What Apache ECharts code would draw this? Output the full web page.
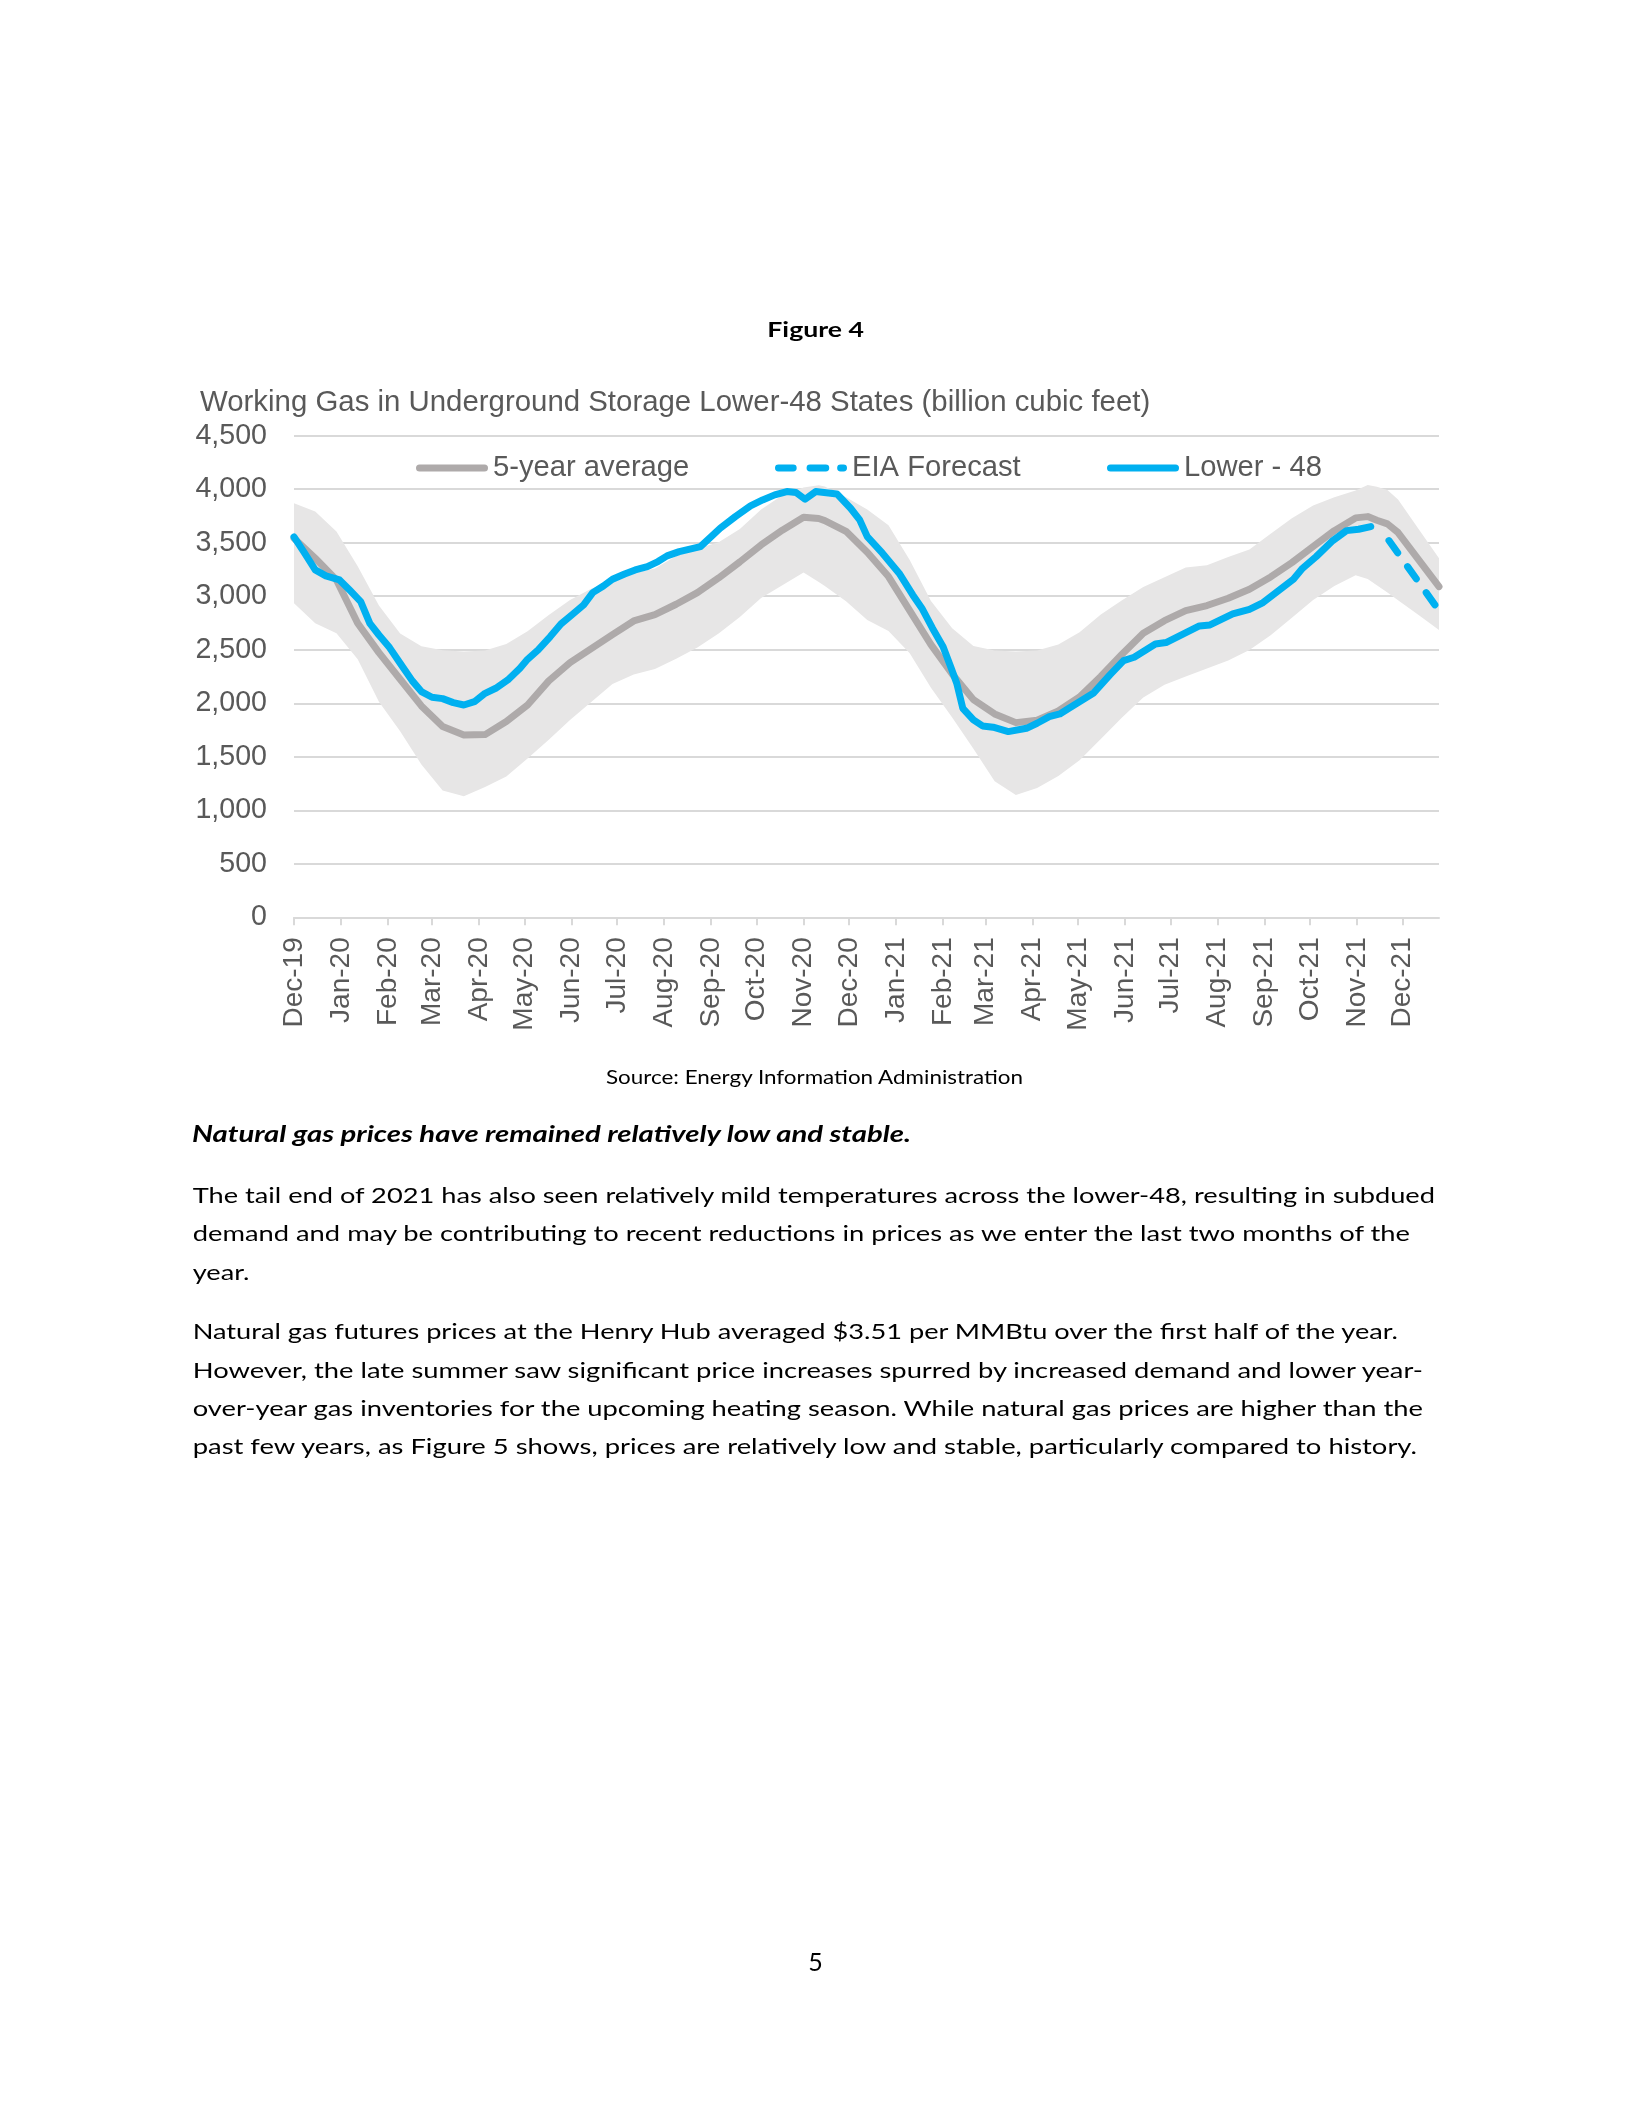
<!DOCTYPE html>
<html>
<head>
<meta charset="utf-8">
<script src="https://cdn.jsdelivr.net/npm/echarts@6/dist/echarts.min.js"></script>
<style>
html,body{margin:0;padding:0;background:#fff;}
#page{position:relative;width:1631px;height:2111px;overflow:hidden;background:#fff;}
#chart{position:absolute;left:0;top:0;width:1631px;height:1060px;}
#doc{position:absolute;left:0;top:0;width:1631px;height:2111px;pointer-events:none;}
#doc text{font-family:Lato,'Open Sans',sans-serif;fill:#000;}
</style>
</head>
<body>
<div id="page">
<div id="chart"></div>
<svg id="doc" width="1631" height="2111" xmlns="http://www.w3.org/2000/svg">
  <text x="767.3" y="337.3" font-size="21" font-weight="700" textLength="96.7" lengthAdjust="spacingAndGlyphs">Figure 4</text>
  <text x="606" y="1084.3" font-size="19" textLength="417" lengthAdjust="spacingAndGlyphs">Source: Energy Information Administration</text>
  <text x="192" y="1142.3" font-size="23" font-weight="700" font-style="italic" textLength="719" lengthAdjust="spacingAndGlyphs">Natural gas prices have remained relatively low and stable.</text>
  <text x="192.7" y="1202.7" font-size="22" textLength="1242.3" lengthAdjust="spacingAndGlyphs">The tail end of 2021 has also seen relatively mild temperatures across the lower-48, resulting in subdued</text>
  <text x="192.7" y="1241.4" font-size="22" textLength="1217.3" lengthAdjust="spacingAndGlyphs">demand and may be contributing to recent reductions in prices as we enter the last two months of the</text>
  <text x="192.7" y="1280" font-size="22" textLength="56.8" lengthAdjust="spacingAndGlyphs">year.</text>
  <text x="192.7" y="1339.4" font-size="22" textLength="1205.3" lengthAdjust="spacingAndGlyphs">Natural gas futures prices at the Henry Hub averaged $3.51 per MMBtu over the first half of the year.</text>
  <text x="192.7" y="1377.7" font-size="22" textLength="1230.3" lengthAdjust="spacingAndGlyphs">However, the late summer saw significant price increases spurred by increased demand and lower year-</text>
  <text x="192.7" y="1416" font-size="22" textLength="1230.3" lengthAdjust="spacingAndGlyphs">over-year gas inventories for the upcoming heating season. While natural gas prices are higher than the</text>
  <text x="192.7" y="1454.4" font-size="22" textLength="1224.3" lengthAdjust="spacingAndGlyphs">past few years, as Figure 5 shows, prices are relatively low and stable, particularly compared to history.</text>
  <text x="815.5" y="1971" font-size="25" text-anchor="middle">5</text>
</svg>
</div>
<script>
// ---------------- DATA ----------------
const tickDates = ['2019-12-01','2020-01-01','2020-02-01','2020-03-01','2020-04-01','2020-05-01','2020-06-01','2020-07-01','2020-08-01','2020-09-01','2020-10-01','2020-11-01','2020-12-01','2021-01-01','2021-02-01','2021-03-01','2021-04-01','2021-05-01','2021-06-01','2021-07-01','2021-08-01','2021-09-01','2021-10-01','2021-11-01','2021-12-01'];
const tickLabels = ['Dec-19','Jan-20','Feb-20','Mar-20','Apr-20','May-20','Jun-20','Jul-20','Aug-20','Sep-20','Oct-20','Nov-20','Dec-20','Jan-21','Feb-21','Mar-21','Apr-21','May-21','Jun-21','Jul-21','Aug-21','Sep-21','Oct-21','Nov-21','Dec-21'];
const yTicks = [0,500,1000,1500,2000,2500,3000,3500,4000,4500];

// 5-year range band and 5-year average (same dates)
const bandDates = ['2019-12-01','2019-12-15','2019-12-29','2020-01-12','2020-01-26','2020-02-09','2020-02-23','2020-03-08','2020-03-22','2020-04-05','2020-04-19','2020-05-03','2020-05-17','2020-05-31','2020-06-14','2020-06-28','2020-07-12','2020-07-26','2020-08-09','2020-08-23','2020-09-06','2020-09-20','2020-10-04','2020-10-18','2020-11-01','2020-11-11','2020-11-15','2020-11-29','2020-12-13','2020-12-27','2021-01-10','2021-01-24','2021-02-07','2021-02-21','2021-03-07','2021-03-21','2021-04-04','2021-04-18','2021-05-02','2021-05-16','2021-05-30','2021-06-13','2021-06-27','2021-07-11','2021-07-25','2021-08-08','2021-08-22','2021-09-05','2021-09-19','2021-10-03','2021-10-17','2021-10-31','2021-11-08','2021-11-14','2021-11-21','2021-11-28','2021-12-12','2021-12-25'];
const bandMax = [3869,3791,3604,3280,2913,2651,2532,2495,2483,2492,2554,2673,2825,2965,3071,3149,3218,3258,3377,3445,3504,3629,3810,3944,4015,4037,4025,3925,3810,3663,3339,2956,2701,2536,2492,2483,2492,2548,2663,2830,2962,3087,3177,3268,3289,3367,3436,3585,3729,3847,3925,3987,4040,4022,3993,3903,3620,3355];
const bandMin = [2934,2747,2654,2411,2015,1738,1427,1184,1131,1218,1315,1483,1660,1844,2012,2181,2268,2321,2417,2520,2651,2807,2984,3103,3221,3134,3096,2953,2779,2676,2467,2146,1866,1576,1271,1143,1209,1321,1467,1667,1866,2053,2174,2249,2324,2399,2498,2635,2800,2965,3096,3196,3162,3103,3034,2962,2819,2685];
const avgValues = [3542,3355,3152,2747,2473,2224,1975,1782,1704,1707,1829,1984,2209,2380,2511,2642,2769,2828,2925,3034,3171,3321,3479,3617,3738,3726,3707,3607,3411,3184,2866,2548,2274,2034,1900,1819,1841,1928,2059,2250,2458,2654,2772,2866,2913,2981,3065,3180,3314,3464,3613,3732,3744,3710,3676,3595,3333,3090];

// Lower-48 working gas
const l48Dates = ['2019-12-01','2019-12-08','2019-12-15','2019-12-22','2019-12-31','2020-01-07','2020-01-14','2020-01-20','2020-01-26','2020-02-02','2020-02-09','2020-02-17','2020-02-23','2020-03-01','2020-03-08','2020-03-15','2020-03-22','2020-03-29','2020-04-05','2020-04-12','2020-04-20','2020-04-28','2020-05-03','2020-05-10','2020-05-18','2020-05-25','2020-06-02','2020-06-09','2020-06-15','2020-06-22','2020-06-28','2020-07-06','2020-07-13','2020-07-21','2020-07-28','2020-08-03','2020-08-11','2020-08-25','2020-09-07','2020-09-17','2020-09-27','2020-10-05','2020-10-13','2020-10-21','2020-10-27','2020-11-02','2020-11-09','2020-11-23','2020-12-02','2020-12-08','2020-12-13','2020-12-23','2021-01-03','2021-01-12','2021-01-18','2021-01-25','2021-02-01','2021-02-06','2021-02-10','2021-02-14','2021-02-21','2021-02-27','2021-03-06','2021-03-16','2021-03-28','2021-04-04','2021-04-12','2021-04-19','2021-04-25','2021-05-11','2021-05-22','2021-05-31','2021-06-07','2021-06-21','2021-06-28','2021-07-20','2021-07-27','2021-08-11','2021-08-22','2021-08-31','2021-09-20','2021-09-26','2021-10-05','2021-10-16','2021-10-25','2021-11-02','2021-11-10'];
const l48Values = [3555,3402,3246,3190,3152,3053,2950,2747,2638,2520,2374,2209,2109,2056,2043,2006,1984,2015,2093,2140,2218,2327,2411,2498,2623,2741,2835,2919,3034,3096,3159,3208,3246,3277,3324,3377,3417,3464,3635,3744,3844,3900,3947,3978,3969,3906,3978,3956,3822,3713,3557,3402,3215,3012,2888,2701,2529,2342,2187,1953,1844,1788,1776,1735,1766,1813,1875,1900,1953,2093,2265,2399,2430,2554,2567,2722,2732,2835,2878,2941,3159,3261,3370,3520,3613,3626,3651];

// EIA forecast
const fcDates = ['2021-11-22','2021-12-25'];
const fcValues = [3520,2866];

const axisStart = '2019-12-01';
const axisEnd = '2021-12-25';

// ---------------- CHART ----------------
const FONT = "'Liberation Sans', Arial, sans-serif";
const toTime = s => { const p = s.split('-').map(Number); return new Date(p[0], p[1]-1, p[2]).getTime(); };
const pairs = (dates, vals) => dates.map((d, i) => [toTime(d), vals[i]]);
const tickTimes = tickDates.map(toTime);

// legend icons: thick round-capped line, and round-capped dashes
const ICON_SOLID = 'path://M3.5,0H68.5A3.5,3.5 0 0 1 68.5,7H3.5A3.5,3.5 0 0 1 3.5,0Z';
const ICON_DASH = 'path://M3.5,0H18.5A3.5,3.5 0 0 1 18.5,7H3.5A3.5,3.5 0 0 1 3.5,0Z M35.5,0H51.5A3.5,3.5 0 0 1 51.5,7H35.5A3.5,3.5 0 0 1 35.5,0Z M66.5,0H69.5A3.5,3.5 0 0 1 69.5,7H66.5A3.5,3.5 0 0 1 66.5,0Z';

const chart = echarts.init(document.getElementById('chart'), null, {renderer: 'canvas'});
const legendText = {fontSize: 29.2, color: '#595959', fontFamily: FONT, lineHeight: 29};
const legendBase = {top: 453.5, padding: 0, itemWidth: 72, itemHeight: 7, textStyle: legendText,
                    itemStyle: {borderWidth: 0}, selectedMode: false};
const option = {
  animation: false,
  backgroundColor: 'transparent',
  textStyle: {fontFamily: FONT},
  title: {
    text: 'Working Gas in Underground Storage Lower-48 States (billion cubic feet)',
    left: 200, top: 388, padding: 0,
    textStyle: {fontSize: 29.4, fontWeight: 'normal', color: '#595959', fontFamily: FONT}
  },
  legend: [
    Object.assign({}, legendBase, {data: ['5-year average'], left: 416, icon: ICON_SOLID}),
    Object.assign({}, legendBase, {data: ['EIA Forecast'], left: 775, icon: ICON_DASH}),
    Object.assign({}, legendBase, {data: ['Lower - 48'], left: 1107, icon: ICON_SOLID})
  ],
  grid: {left: 294, right: 192, top: 435.7, bottom: 142.7, containLabel: false, outerBoundsMode: 'none'},
  xAxis: {
    type: 'value',
    min: toTime(axisStart), max: toTime(axisEnd),
    axisLine: {show: true, lineStyle: {color: '#D9D9D9', width: 2}},
    axisTick: {show: true, length: 8, lineStyle: {color: '#D9D9D9', width: 2}, customValues: tickTimes},
    axisLabel: {
      customValues: tickTimes, rotate: 90, margin: 20, fontSize: 28, color: '#595959', fontFamily: FONT,
      formatter: v => { const i = tickTimes.indexOf(+v); return i >= 0 ? tickLabels[i] : ''; }
    },
    splitLine: {show: false}
  },
  yAxis: {
    type: 'value', min: yTicks[0], max: yTicks[yTicks.length-1], interval: 500,
    axisLine: {show: false}, axisTick: {show: false},
    axisLabel: {fontSize: 28.6, color: '#595959', margin: 27, fontFamily: FONT, formatter: v => Number(v).toLocaleString('en-US')},
    splitLine: {show: true, lineStyle: {color: '#D9D9D9', width: 2}}
  },
  series: [
    {name: '5-year range', type: 'custom', silent: true, z: 1,
     encode: {x: 0, y: 1},
     data: [[toTime(axisStart), bandMin[0]]],
     renderItem: (params, api) => {
       const pts = [];
       for (let i = 0; i < bandDates.length; i++) pts.push(api.coord([toTime(bandDates[i]), bandMax[i]]));
       for (let i = bandDates.length - 1; i >= 0; i--) pts.push(api.coord([toTime(bandDates[i]), bandMin[i]]));
       return {type: 'polygon', shape: {points: pts}, style: {fill: '#E7E6E6'}};
     }},
    {name: '5-year average', type: 'line', symbol: 'none', data: pairs(bandDates, avgValues),
     lineStyle: {color: '#AEAAAA', width: 7, cap: 'round', join: 'round'}, itemStyle: {color: '#AEAAAA'}, z: 3},
    {name: 'EIA Forecast', type: 'line', symbol: 'none', data: pairs(fcDates, fcValues),
     lineStyle: {color: '#00B0F0', width: 7, type: [15, 17], cap: 'round', join: 'round'}, itemStyle: {color: '#00B0F0'}, z: 4},
    {name: 'Lower - 48', type: 'line', symbol: 'none', data: pairs(l48Dates, l48Values),
     lineStyle: {color: '#00B0F0', width: 7, cap: 'round', join: 'round'}, itemStyle: {color: '#00B0F0'}, z: 5}
  ]
};
chart.setOption(option);
</script>
</body>
</html>
